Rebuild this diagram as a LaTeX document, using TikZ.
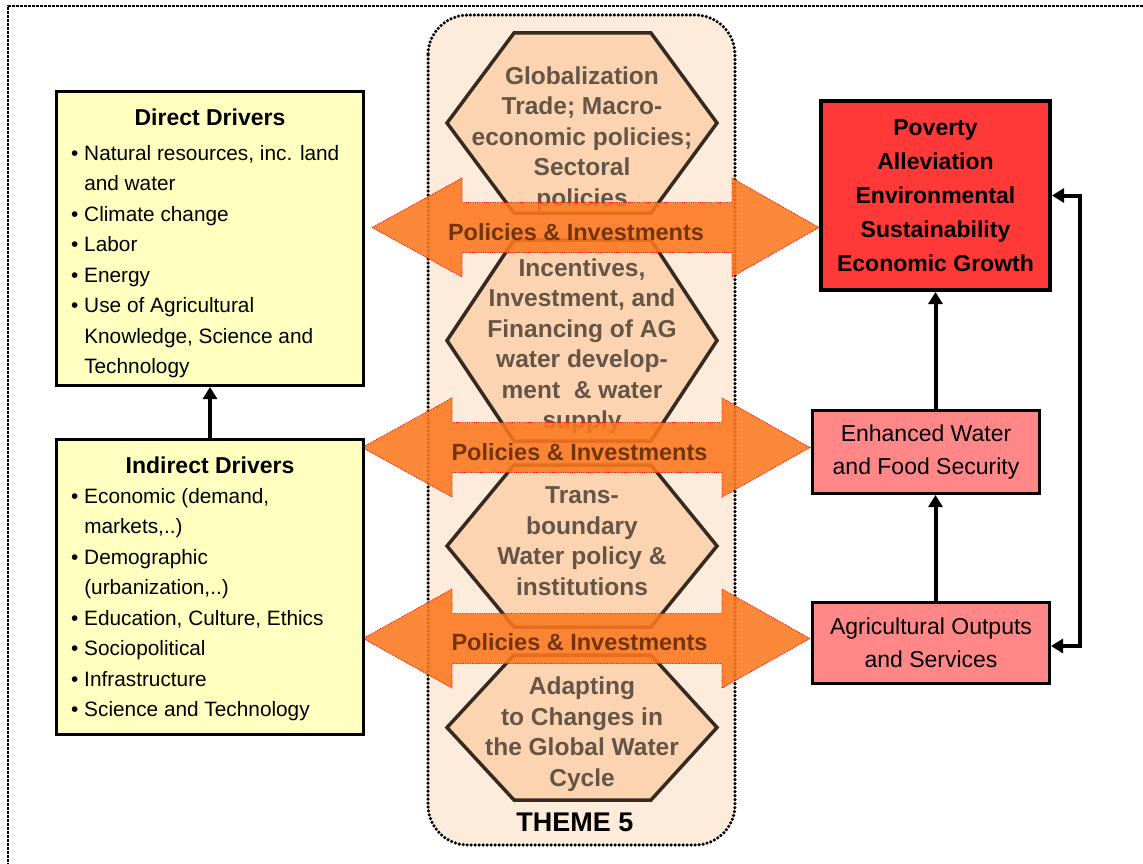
\documentclass[tikz,border=0pt]{standalone}
\usepackage{fontspec}
\setmainfont{Liberation Sans}
\usepackage{xcolor}
\usepackage{tikz}
\usetikzlibrary{positioning, arrows.meta}

\definecolor{drvyellow}{RGB}{255,255,192}
\definecolor{goalred}{RGB}{255,56,56}
\definecolor{outpink}{RGB}{255,135,135}
\definecolor{themefill}{RGB}{253,235,220}
\definecolor{hexfill}{RGB}{252,212,178}
\definecolor{hexline}{RGB}{55,42,32}
\definecolor{hextext}{RGB}{100,85,70}
\definecolor{polorange}{RGB}{252,120,30}
\definecolor{poltext}{RGB}{115,52,10}

\begin{document}
\begin{tikzpicture}[
    x=1pt, y=-1pt,
    node distance=51pt,
    drvbox/.style={rectangle, draw, line width=3pt, fill=drvyellow, minimum width=307pt},
    drvtitle/.style={inner sep=0pt, font=\fontsize{23}{28}\selectfont\bfseries},
    drvlist/.style={inner sep=0pt, align=left, font=\fontsize{20.8}{30.5}\selectfont},
    outbox/.style={rectangle, draw, line width=3pt, fill=outpink, align=center, font=\fontsize{23}{33.5}\selectfont},
    hexa/.style={draw=hexline, line width=3.5pt, fill=hexfill},
    hextxt/.style={inner sep=0pt, align=center, text=hextext, font=\fontsize{24.5}{30.5}\selectfont\bfseries},
    polarrow/.style={fill=polorange, fill opacity=0.88, draw=red, line width=0.8pt, densely dotted},
    pollabel/.style={inner sep=0pt, text=poltext, font=\fontsize{23.5}{28}\selectfont\bfseries},
    arrow/.style={-{Triangle[length=12pt,width=14pt]}, line width=4pt}
]
\useasboundingbox (0,0) rectangle (1143,864);
\fill[white] (0,0) rectangle (1143,864);

% Frame and theme band
\draw[line width=2pt, dash pattern=on 3pt off 1pt] (1143,6) -- (8,6) -- (8,864);
\draw[fill=themefill, line width=3.5pt, line cap=round, dash pattern=on 0pt off 4pt, rounded corners=40pt] (428,15) rectangle (735,845);

% Hexagons
\draw[hexa] (447,123) -- (514,33) -- (651,33) -- (717,123) -- (651,213) -- (514,213) -- cycle;
\draw[hexa] (447,340.5) -- (514,240) -- (651,240) -- (717,340.5) -- (651,441) -- (514,441) -- cycle;
\draw[hexa] (447,546) -- (514,465) -- (651,465) -- (717,546) -- (651,627) -- (514,627) -- cycle;
\draw[hexa] (447,727.5) -- (514,655) -- (651,655) -- (717,727.5) -- (651,800) -- (514,800) -- cycle;

\node[hextxt] (hex1) at (582,139) {Globalization\\Trade; Macro-\\economic policies;\\Sectoral\\policies};
\node[hextxt] (hex2) at (582,346) {Incentives,\\Investment, and\\Financing of AG\\water develop-\\ment\ \ \& water\\supply};
\node[hextxt] (hex3) at (582,541) {Trans-\\boundary\\Water policy \&\\institutions};
\node[hextxt] (hex4) at (582,734) {Adapting\\to Changes in\\the Global Water\\Cycle};

% Policy arrows
\draw[polarrow] (372,227.5) -- (462,178) -- (462,202.5) -- (732,202.5) -- (732,178) -- (819,227.5) -- (732,277) -- (732,252.5) -- (462,252.5) -- (462,277) -- cycle;
\draw[polarrow] (362,447.5) -- (452,398) -- (452,422.5) -- (722,422.5) -- (722,398) -- (810,447.5) -- (722,497) -- (722,472.5) -- (452,472.5) -- (452,497) -- cycle;
\draw[polarrow] (363,638.5) -- (452,589) -- (452,613.5) -- (722,613.5) -- (722,589) -- (810,638.5) -- (722,688) -- (722,663.5) -- (452,663.5) -- (452,688) -- cycle;

\node[pollabel] (pol1) at (576,232) {Policies \& Investments};
\node[pollabel] (pol2) at (579.5,452) {Policies \& Investments};
\node[pollabel] (pol3) at (579.5,642) {Policies \& Investments};

\node[font=\fontsize{27}{30}\selectfont\bfseries, inner sep=0pt] (theme) at (575,822) {THEME 5};

% Drivers
\node[drvbox, minimum height=294pt] (direct) at (210,238.5) {};
\node[drvbox, minimum height=295pt, below=of direct] (indirect) {};

\node[drvtitle, anchor=base] (directT) at ([yshift=-35.5pt]direct.north) {Direct Drivers};
\node[drvlist, anchor=north west] (directL) at (71,145) {\textbullet\ Natural resources, inc. land\\\phantom{\textbullet\ }and water\\\textbullet\ Climate change\\\textbullet\ Labor\\\textbullet\ Energy\\\textbullet\ Use of Agricultural\\\phantom{\textbullet\ }Knowledge, Science and\\\phantom{\textbullet\ }Technology};

\node[drvtitle, anchor=base] (indirectT) at ([yshift=-35.5pt]indirect.north) {Indirect Drivers};
\node[drvlist, anchor=north west] (indirectL) at (71,488) {\textbullet\ Economic (demand,\\\phantom{\textbullet\ }markets,..)\\\textbullet\ Demographic\\\phantom{\textbullet\ }(urbanization,..)\\\textbullet\ Education, Culture, Ethics\\\textbullet\ Sociopolitical\\\textbullet\ Infrastructure\\\textbullet\ Science and Technology};

% Outcomes
\node[outbox, fill=goalred, line width=4pt, minimum width=229pt, minimum height=189pt, font=\fontsize{23}{34}\selectfont\bfseries] (pov) at (935.5,195.5) {Poverty\\Alleviation\\Environmental\\Sustainability\\Economic Growth};
\node[outbox, minimum width=227pt, minimum height=83pt] (enh) at (926,452) {Enhanced Water\\and Food Security};
\node[outbox, minimum width=237pt, minimum height=81pt] (ag) at (931,643) {Agricultural Outputs\\and Services};

% Arrows
\draw[arrow] (indirect) -- (direct);
\draw[arrow] (ag.north -| pov.south) -- (enh.south -| pov.south);
\draw[arrow] (enh.north -| pov.south) -- (pov.south);
\draw[arrow, {Triangle[length=12pt,width=14pt]}-{Triangle[length=12pt,width=14pt]}] ([yshift=-3pt]ag.east) -- ++(29,0) |- (pov.east);

\end{tikzpicture}
\end{document}
